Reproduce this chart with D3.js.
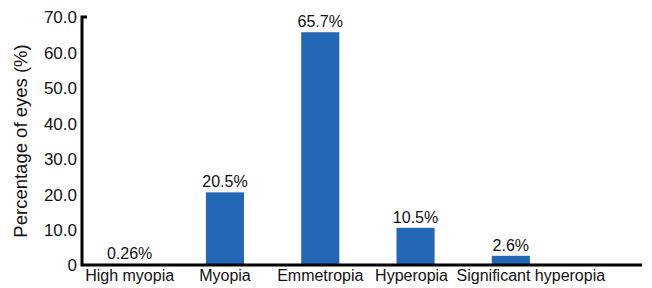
<!doctype html>
<meta charset="utf-8">
<style>
  body { margin: 0; background: #fff; }
  text { font-family: Arial, "Liberation Sans", sans-serif; fill: #111; }
</style>
<body>
<script src="https://d3js.org/d3.v7.min.js"></script>
<script>

let categories = ['High myopia', 'Myopia', 'Emmetropia', 'Hyperopia', 'Significant hyperopia'];
let values = [0.26, 20.5, 65.7, 10.5, 2.6];
let valueLabels = ['0.26%', '20.5%', '65.7%', '10.5%', '2.6%'];
let yTicks = [0, 10, 20, 30, 40, 50, 60, 70];

let width = 652,
    height = 288;

let plotLeft = 82, plotRight = 642, plotTop = 17, plotBottom = 265;

let svg = d3.select('body').append('svg')
    .attr('width', width)
    .attr('height', height);

// band scale: centres at ~130, 225, 320, 416, 511
let x = d3.scaleBand()
    .domain(categories)
    .range([plotLeft, 558.5])
    .paddingInner(0.6)
    .paddingOuter(0.3);

let y = d3.scaleLinear()
    .domain([0, 70])
    .range([plotBottom, plotTop]);

// bars
svg.append('g').selectAll('rect')
    .data(values)
    .enter().append('rect')
    .attr('x', (d, i) => x(categories[i]))
    .attr('y', d => y(d))
    .attr('width', x.bandwidth())
    .attr('height', d => y(0) - y(d))
    .attr('fill', '#2467b5');

// value labels
svg.append('g').selectAll('text')
    .data(values)
    .enter().append('text')
    .attr('x', (d, i) => x(categories[i]) + x.bandwidth() / 2)
    .attr('y', d => y(d) - 5)
    .attr('text-anchor', 'middle')
    .style('font-size', '16px')
    .text((d, i) => valueLabels[i]);

// y axis
let yAxis = svg.append('g')
    .attr('transform', 'translate(' + plotLeft + ',0)')
    .call(d3.axisLeft(y).tickValues(yTicks).tickSize(0).tickPadding(5)
        .tickFormat(d => d === 0 ? '0' : d3.format('.1f')(d)));
yAxis.select('.domain').remove();
yAxis.selectAll('text').style('font-size', '17px').attr('dy', '0.35em');

// x axis
let xAxis = svg.append('g')
    .attr('transform', 'translate(0,' + plotBottom + ')')
    .call(d3.axisBottom(x).tickSize(0).tickPadding(5));
xAxis.select('.domain').remove();
xAxis.selectAll('text').style('font-size', '16px');
// long last label is nudged right in the original so it clears "Hyperopia"
xAxis.selectAll('.tick').filter(d => d === 'Significant hyperopia')
    .select('text').attr('dx', 20);
xAxis.selectAll('.tick').filter(d => d === 'Hyperopia')
    .select('text').attr('dx', -4);

// axis lines
svg.append('path')
    .attr('d', 'M' + (plotLeft + 5) + ',' + plotTop + 'H' + plotLeft + 'V' + plotBottom + 'H' + plotRight)
    .attr('fill', 'none')
    .attr('stroke', '#000')
    .attr('stroke-width', 3);

// y title
svg.append('text')
    .attr('transform', 'translate(27,' + 141 + ') rotate(-90)')
    .attr('text-anchor', 'middle')
    .style('font-size', '18.5px')
    .text('Percentage of eyes (%)');

</script>
</body>
